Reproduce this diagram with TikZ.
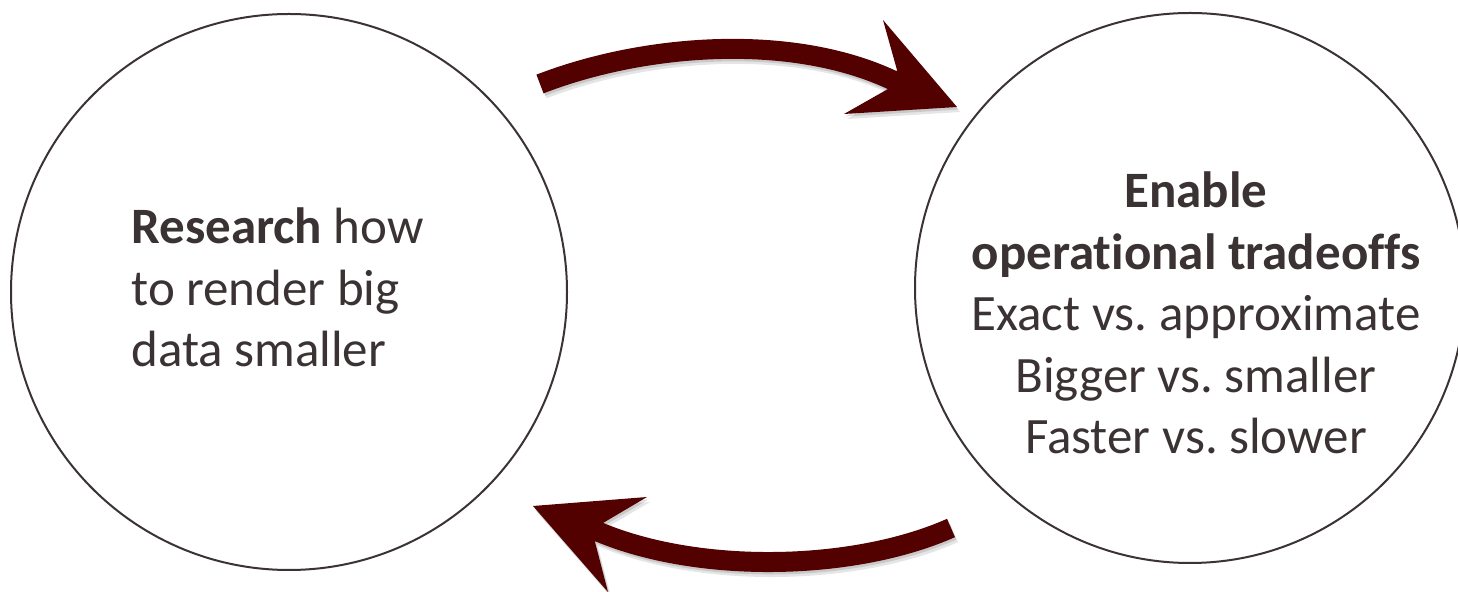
\documentclass[tikz,border=0pt]{standalone}
\usepackage{fontspec}
\setmainfont{Carlito}[Ligatures=NoCommon]
\definecolor{inkgray}{RGB}{58,50,51}
\definecolor{wine}{RGB}{82,0,0}

% the two curved block arrows of the cycle (tails, notches and tips are named coordinates)
\newcommand{\cyclearrows}{%
  \draw[shaft] (topTail) .. controls (644,43.7) and (790.5,32.6) .. (topNotch) -- ++(6.3,2.96);
  \fill (897,70) -- (883,20) -- (topTip) -- (844,114) -- (888,89) -- cycle;
  \draw[shaft] (botTail) .. controls (852.7,571.6) and (698.1,573.7) .. (botNotch) -- ++(-6.5,-2.7);
  \fill (603,523) -- (647,497) -- (botTip) -- (608,592) -- (595,542) -- cycle;
}

\begin{document}
\begin{tikzpicture}[x=0.5pt,y=-0.5pt,
  ring/.style={circle, draw=inkgray, line width=1pt, minimum size=#1, inner sep=0pt},
  shaft/.style={line width=10pt, line cap=butt},
  label/.style={inner sep=0pt, text=inkgray, font=\fontsize{25.5pt}{30.75pt}\selectfont}]
\useasboundingbox (0,0) rectangle (1458,592);

% circles
\node[ring=278pt] (research) at (289,292) {};
\node[ring=275pt] (tradeoffs) at (1190,288) {};

% circle texts
\node[label, anchor=base west] (researchText) at (131,244)
  {\begin{tabular}[t]{@{}l@{}}\textbf{Research} how\\ to render big\\ data smaller\end{tabular}};
\node[label, anchor=base] (tradeoffsText) at (1196,208)
  {\begin{tabular}[t]{@{}c@{}}\textbf{Enable}\\ \textbf{operational tradeoffs}\\ Exact vs.\ approximate\\ Bigger vs.\ smaller\\ Faster vs.\ slower\end{tabular}};

% arrow anchors
\coordinate (topTail) at (540,84);
\coordinate (topNotch) at (892,80);
\coordinate (topTip) at (957,107);
\coordinate (botTail) at (951,528);
\coordinate (botNotch) at (599,532);
\coordinate (botTip) at (533,506);

% soft drop shadow under the arrows
\begin{scope}[transform canvas={shift={(1.5pt,-2.5pt)}}, transparency group, opacity=0.10, color=black]
  \cyclearrows
\end{scope}
\begin{scope}[transform canvas={shift={(0.75pt,-1.25pt)}}, transparency group, opacity=0.12, color=black]
  \cyclearrows
\end{scope}

% arrows
\begin{scope}[color=wine]
  \cyclearrows
\end{scope}
\end{tikzpicture}
\end{document}
